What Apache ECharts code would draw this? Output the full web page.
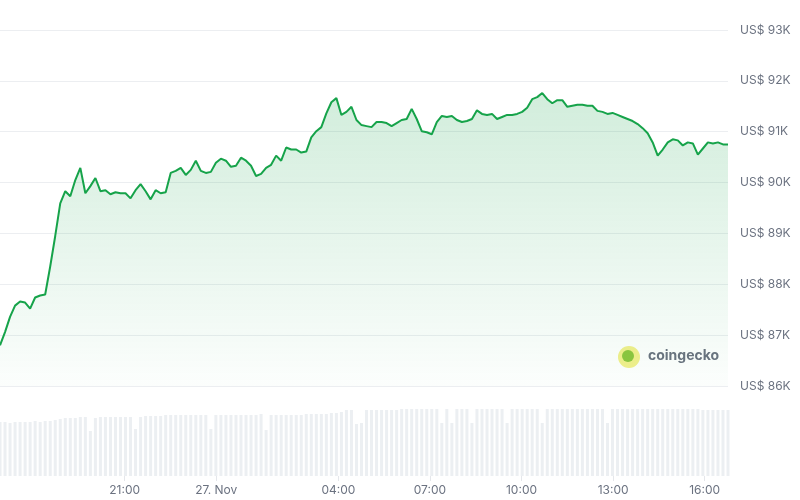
<!DOCTYPE html>
<html>
<head>
<meta charset="utf-8">
<script src="https://cdn.jsdelivr.net/npm/echarts@6/dist/echarts.min.js"></script>
<style>
html, body { margin: 0; padding: 0; background: #fff; }
#main { width: 800px; height: 500px; }
</style>
</head>
<body>
<div id="main"></div>
<script>
// minutes from 00:00 27 Nov, one point every ~10 min
var startMin = -425;
var stepMin = 9.868;

var prices = [
	86.80, 87.06, 87.36, 87.58, 87.66, 87.64, 87.52, 87.74, 87.78, 87.80,
	88.35, 88.95, 89.59, 89.83, 89.73, 90.05, 90.29, 89.79, 89.93, 90.09,
	89.83, 89.85, 89.77, 89.81, 89.79, 89.79, 89.69, 89.85, 89.97, 89.83,
	89.67, 89.85, 89.79, 89.81, 90.19, 90.23, 90.29, 90.15, 90.25, 90.43,
	90.23, 90.19, 90.21, 90.39, 90.47, 90.43, 90.31, 90.33, 90.49, 90.43,
	90.33, 90.13, 90.17, 90.29, 90.35, 90.53, 90.43, 90.69, 90.65, 90.65,
	90.59, 90.61, 90.89, 91.01, 91.09, 91.36, 91.58, 91.66, 91.33, 91.39,
	91.49, 91.23, 91.13, 91.11, 91.09, 91.19, 91.19, 91.17, 91.11, 91.17,
	91.23, 91.25, 91.45, 91.25, 91.01, 90.99, 90.95, 91.19, 91.31, 91.29,
	91.31, 91.23, 91.19, 91.21, 91.25, 91.42, 91.35, 91.33, 91.35, 91.25,
	91.29, 91.33, 91.33, 91.35, 91.39, 91.47, 91.64, 91.68, 91.76, 91.64,
	91.56, 91.62, 91.62, 91.49, 91.51, 91.53, 91.53, 91.51, 91.51, 91.41,
	91.39, 91.35, 91.37, 91.33, 91.29, 91.25, 91.21, 91.15, 91.07, 90.97,
	90.79, 90.53, 90.65, 90.79, 90.85, 90.83, 90.73, 90.79, 90.77, 90.55,
	90.67, 90.79, 90.77, 90.79, 90.75, 90.75
];

var volumes = [
	54, 54, 53, 54, 54, 54, 54, 55, 54, 55,
	55, 56, 57, 58, 58, 58, 59, 59, 45, 58,
	59, 59, 59, 59, 59, 59, 59, 47, 59, 60,
	60, 60, 60, 61, 61, 61, 61, 61, 61, 61,
	61, 61, 47, 61, 61, 61, 61, 61, 61, 61,
	61, 61, 62, 46, 61, 61, 61, 61, 61, 61,
	61, 62, 62, 62, 62, 62, 63, 63, 64, 66,
	66, 52, 53, 66, 66, 66, 66, 66, 66, 66,
	67, 67, 67, 67, 67, 67, 67, 67, 53, 67,
	53, 67, 67, 67, 53, 67, 67, 67, 67, 67,
	67, 53, 67, 67, 67, 67, 67, 67, 53, 67,
	67, 67, 67, 67, 67, 67, 67, 67, 67, 67,
	67, 53, 67, 67, 67, 67, 67, 67, 67, 67,
	67, 67, 67, 67, 67, 67, 67, 67, 67, 67,
	66, 66, 66, 66, 66, 66
];

var tickMins = [-180, 0, 240, 420, 600, 780, 960];
var tickLabels = ['21:00', '27. Nov', '04:00', '07:00', '10:00', '13:00', '16:00'];

var priceData = [];
var volData = [];
for (var i = 0; i < prices.length; i++) {
	var t = startMin + i * stepMin;
	priceData.push([t, prices[i]]);
	volData.push([t, volumes[i]]);
}
var xMin = startMin;
var xMax = startMin + (prices.length - 1) * stepMin;

var chart = echarts.init(document.getElementById('main'));
var option = {
	animation: false,
	grid: [
		{ left: 0, right: 72, top: 30, height: 356 },
		{ left: 0, right: 72, top: 388, bottom: 24 }
	],
	xAxis: [{
		gridIndex: 0, type: 'value', min: xMin, max: xMax,
		show: false
	}, {
		gridIndex: 1, type: 'value', min: xMin, max: xMax,
		axisLine: { show: false },
		splitLine: { show: false },
		axisTick: {
			show: true, length: 5, customValues: tickMins,
			lineStyle: { color: '#e5e7eb' }
		},
		axisLabel: {
			customValues: tickMins,
			color: '#6b7280', fontSize: 12, fontFamily: 'Inter', margin: 8,
			formatter: function (v) {
				var k = tickMins.indexOf(v);
				return k >= 0 ? tickLabels[k] : '';
			}
		}
	}],
	yAxis: [{
		gridIndex: 0, type: 'value', position: 'right',
		min: 86, max: 93, interval: 1,
		axisLine: { show: false },
		axisTick: { show: false },
		axisLabel: {
			margin: 12, color: '#6b7280', fontSize: 12, fontFamily: 'Inter',
			formatter: 'US$ {value}K'
		},
		splitLine: { lineStyle: { color: '#eceef1' } }
	}, {
		gridIndex: 1, type: 'value', min: 0, max: 88,
		show: false
	}],
	series: [{
		type: 'bar', xAxisIndex: 1, yAxisIndex: 1,
		data: volData, barWidth: 3,
		itemStyle: { color: '#eceff2' },
		silent: true
	}, {
		type: 'line', xAxisIndex: 0, yAxisIndex: 0,
		data: priceData, showSymbol: false,
		lineStyle: { color: '#16a34a', width: 2 },
		areaStyle: {
			color: new echarts.graphic.LinearGradient(0, 0, 0, 1, [
				{ offset: 0, color: 'rgba(22,163,74,0.28)' },
				{ offset: 1, color: 'rgba(22,163,74,0.02)' }
			]),
			origin: 'start'
		}
	}],
	graphic: [{
		type: 'circle', left: 618, top: 346,
		shape: { r: 11 },
		style: { fill: '#f2f08c' }
	}, {
		type: 'circle', left: 622, top: 350,
		shape: { r: 6 },
		style: { fill: '#8dc63f' }
	}, {
		type: 'text', left: 648, top: 349,
		style: {
			text: 'coingecko', fill: '#6b7280',
			font: 'bold 14px Inter'
		}
	}]
};
chart.setOption(option);
</script>
</body>
</html>
